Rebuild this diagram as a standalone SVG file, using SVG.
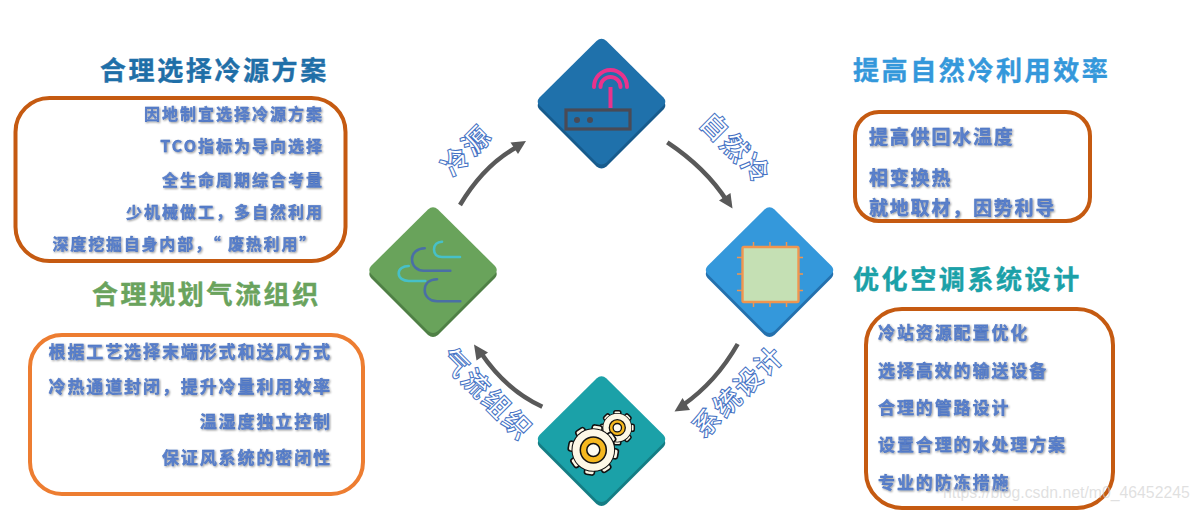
<svg xmlns="http://www.w3.org/2000/svg" xmlns:xlink="http://www.w3.org/1999/xlink" width="1199" height="511" viewBox="0 0 1199 511">
<style>
text{font-family:"Noto Sans CJK SC","Noto Sans",sans-serif}
.h{font-size:26px;font-weight:700;letter-spacing:2.6px;dominant-baseline:central;stroke-width:.4}
.b{font-size:16px;font-weight:700;letter-spacing:2px;fill:#5a80cb;stroke:#3f69bb;stroke-width:.3;dominant-baseline:central;filter:url(#sh)}
.b2{font-size:17px;letter-spacing:1.9px}
.b3{font-size:19px;letter-spacing:1.8px}
.box{fill:#fff;stroke-width:4}
.l{font-size:27px;font-weight:700;letter-spacing:2px;fill:#fff;stroke:#4472c4;stroke-width:1;text-anchor:middle;dominant-baseline:central}
.a{fill:none;stroke:#595959;stroke-width:4.5}
.ah{fill:#595959}
.wind{fill:none;stroke-width:2.6;stroke-linecap:round}
.pin{stroke:#f0954f;stroke-width:1.5}
</style>
<defs>
<filter id="sh" x="-5%" y="-30%" width="110%" height="160%"><feGaussianBlur in="SourceAlpha" stdDeviation="1"/><feOffset dx="0.5" dy="1"/><feComponentTransfer><feFuncA type="linear" slope=".45"/></feComponentTransfer><feMerge><feMergeNode/><feMergeNode in="SourceGraphic"/></feMerge></filter>
<path id="d" d="M-5 -60.500Q0 -65 5 -60.500L62 -4Q65.500 0 62 4L5 61Q0 65 -5 61L-62 4Q-65.500 0 -62 -4Z"/>
<rect id="tb" x="-5" y="-25" width="10" height="50" rx="2.500" fill="#fdf8e6" stroke="#111" stroke-width="1.600"/>
<rect id="ts" x="-3.500" y="-17" width="7" height="34" rx="1.800" fill="#fdf8e6" stroke="#111" stroke-width="1.500"/>
</defs>
<rect width="1199" height="511" fill="#fff"/>

<g id="connectors">
<path class="a" d="M460 205Q484 165 517 147"/><path class="ah" d="M526 141L510.500 142.500L518 154Z"/>
<path class="a" d="M667.300 142.300Q706 168 727 201"/><path class="ah" d="M732.500 208.500L730.500 193L719 200.500Z"/>
<path class="a" d="M737.700 344Q716 382 683 405"/><path class="ah" d="M674.500 411.500L690 410L682.500 398Z"/>
<path class="a" d="M542.300 406.700Q506 390 481 353"/><path class="ah" d="M474 344.500L476.500 360.500L488 352.500Z"/>
</g>

<g id="node-router">
<use xlink:href="#d" x="601.500" y="105.500" fill="#175b8c"/>
<use xlink:href="#d" x="601.500" y="101.500" fill="#1f71ab"/>
<path d="M610.500 108V87" stroke="#e9338c" stroke-width="4" fill="none"/>
<path d="M594 87A16.500 17 0 0 1 627 87M600.500 87A10 10 0 0 1 620.500 87" stroke="#e9338c" stroke-width="4" fill="none" stroke-linecap="round"/>
<rect x="566" y="110" width="64" height="19" fill="none" stroke="#4a4a55" stroke-width="3.200"/>
<circle cx="577" cy="120" r="3" fill="#4a4a55"/><circle cx="590" cy="120" r="3" fill="#4a4a55"/>
</g>

<g id="node-wind">
<use xlink:href="#d" x="433" y="274" fill="#4f8045"/>
<use xlink:href="#d" x="433" y="270" fill="#69a35b"/>
<path class="wind" stroke="#47c0c8" d="M442 241.700C437 242 434 245 434 249.500C434 254 437 257 442 257H460"/>
<path class="wind" stroke="#47c0c8" d="M408.700 266C403 266 398.700 269 398.700 273.300C398.700 278 403 281 408.700 281H425.300"/>
<path class="wind" stroke="#4a6fa5" d="M424.700 248.300C417 248.500 412 253 412 259.300C412 266 417 270.700 423.700 270.700H450.300"/>
<path class="wind" stroke="#4a6fa5" d="M437 279.300C429 279.500 424.700 284 424.700 290C424.700 296.500 430 301.300 437 301.300H460.300"/>
</g>

<g id="node-chip">
<use xlink:href="#d" x="769.500" y="274" fill="#2470ad"/>
<use xlink:href="#d" x="769.500" y="270" fill="#3498db"/>
<path class="pin" d="M753.500 242V307M770 242V307M786.500 242V307M737 257.500H803M737 274H803M737 290.500H803"/>
<rect x="742.500" y="247" width="56" height="55" rx="1.500" fill="#c5e0b4" stroke="#f0954f" stroke-width="2.400"/>
</g>

<g id="node-gears">
<use xlink:href="#d" x="601.500" y="443" fill="#147d84"/>
<use xlink:href="#d" x="601.500" y="439" fill="#1ba1a8"/>
<g transform="translate(617.300 427.700)">
<use xlink:href="#ts"/><use xlink:href="#ts" transform="rotate(45)"/><use xlink:href="#ts" transform="rotate(90)"/><use xlink:href="#ts" transform="rotate(135)"/>
<circle r="14" fill="#fdf8e6" stroke="#111" stroke-width="1.500"/><circle r="14" fill="#fdf8e6"/>
<circle r="8" fill="#f5b81f" stroke="#111" stroke-width="1.300"/><circle r="4.200" fill="#fdfbf0" stroke="#111" stroke-width="1.300"/>
</g>
<g transform="translate(593.300 450)">
<use xlink:href="#tb" transform="rotate(10)"/><use xlink:href="#tb" transform="rotate(55)"/><use xlink:href="#tb" transform="rotate(100)"/><use xlink:href="#tb" transform="rotate(145)"/>
<circle r="21" fill="#fdf8e6" stroke="#111" stroke-width="1.600"/><circle r="20.800" fill="#fdf8e6"/>
<circle r="13" fill="#f5b81f" stroke="#111" stroke-width="1.500"/><circle r="6.500" fill="#fdfbf0" stroke="#111" stroke-width="1.500"/>
</g>
</g>

<g id="labels">
<text class="l" transform="translate(465 149) rotate(-45)">冷源</text>
<text class="l" transform="translate(737 147) rotate(45)">自然冷</text>
<text class="l" transform="translate(737 390) rotate(-45)">系统设计</text>
<text class="l" transform="translate(488 393) rotate(45)">气流组织</text>
</g>

<g id="panel-source">
<rect class="box" x="15.500" y="98" width="330" height="163" rx="34" stroke="#c55a11"/>
<text class="h" x="100" y="68" fill="#1f6fa8" stroke="#1f6fa8">合理选择冷源方案</text>
<g text-anchor="end">
<text class="b" x="324" y="113">因地制宜选择冷源方案</text>
<text class="b" x="324" y="145">TCO指标为导向选择</text>
<text class="b" x="324" y="178.500">全生命周期综合考量</text>
<text class="b" x="324" y="210.500">少机械做工，多自然利用</text>
<text class="b" x="317" y="243" style="letter-spacing:1.8px">深度挖掘自身内部，“ 废热利用”</text>
</g>
</g>

<g id="panel-airflow">
<rect class="box" x="30" y="335" width="333" height="159" rx="32" stroke="#ed7d31"/>
<text class="h" x="92" y="292" fill="#6aa35d" stroke="#6aa35d">合理规划气流组织</text>
<g text-anchor="end">
<text class="b b2" x="332" y="350">根据工艺选择末端形式和送风方式</text>
<text class="b b2" x="332" y="385">冷热通道封闭，提升冷量利用效率</text>
<text class="b b2" x="332" y="420">温湿度独立控制</text>
<text class="b b2" x="332" y="456">保证风系统的密闭性</text>
</g>
</g>

<g id="panel-natural">
<rect class="box" x="855" y="112" width="235" height="109" rx="24" stroke="#c55a11"/>
<text class="h" x="853" y="68" fill="#3498db" stroke="#3498db">提高自然冷利用效率</text>
<text class="b b3" x="869" y="135">提高供回水温度</text>
<text class="b b3" x="869" y="176">相变换热</text>
<text class="b b3" x="869" y="206">就地取材，因势利导</text>
</g>

<g id="panel-system">
<rect class="box" x="866" y="309" width="247" height="199" rx="36" stroke="#c55a11"/>
<text class="h" x="853" y="277" fill="#1ba1a8" stroke="#1ba1a8">优化空调系统设计</text>
<text class="b b2" x="878" y="331">冷站资源配置优化</text>
<text class="b b2" x="878" y="369">选择高效的输送设备</text>
<text class="b b2" x="878" y="406">合理的管路设计</text>
<text class="b b2" x="878" y="443">设置合理的水处理方案</text>
<text class="b b2" x="878" y="481">专业的防冻措施</text>
</g>

<text x="943" y="498" fill="#ccc" fill-opacity=".6" style="font-family:'Liberation Sans',sans-serif;font-size:15.800px">https://blog.csdn.net/m0_46452245</text>
</svg>
